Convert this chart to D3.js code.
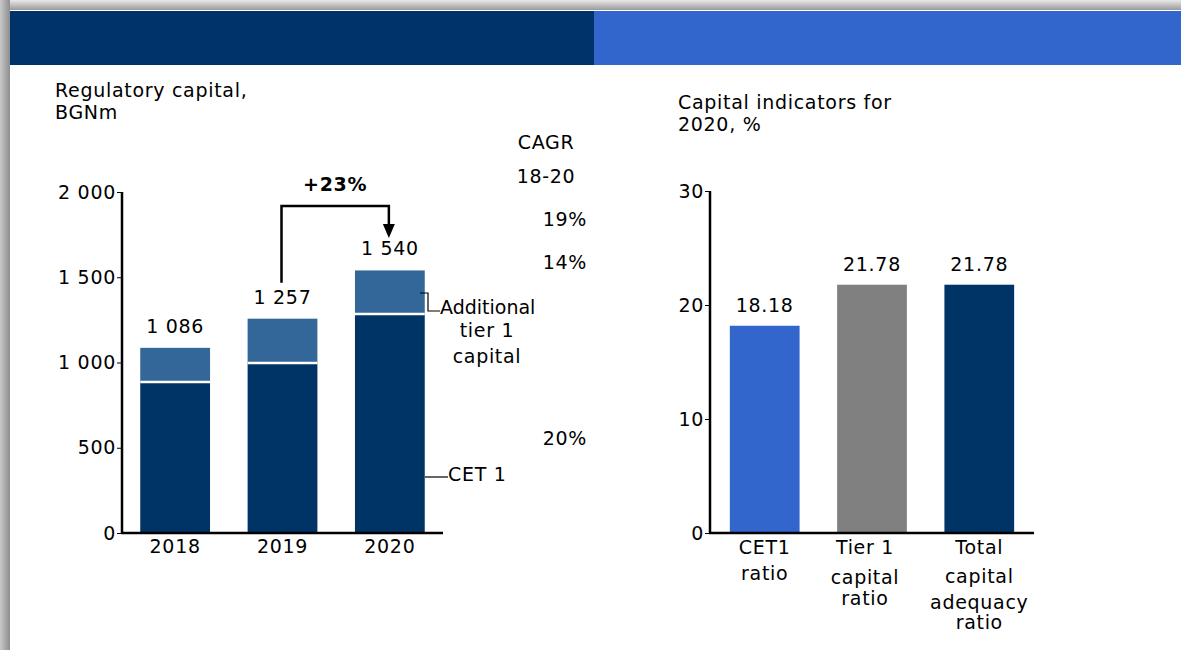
<!DOCTYPE html>
<html><head><meta charset="utf-8">
<script src="https://cdn.jsdelivr.net/npm/d3@7"></script>
<style>
html,body{margin:0;padding:0;background:#fff;}
svg{display:block;font-family:"DejaVu Sans",Verdana,sans-serif;}
svg text{letter-spacing:0.7px;}
</style></head><body>
<svg id="c" width="1181" height="650"></svg>
<script>
// ---- Data ----
const years = ["2018","2019","2020"];
const cet1 = [886, 997, 1284];
const at1 = [200, 260, 256];
const totals = ["1 086","1 257","1 540"];
const capTicks = [0, 500, 1000, 1500, 2000];
const capTickLabels = ["0","500","1 000","1 500","2 000"];
const cagrLabels = ["19%","14%","20%"];
const ratioCats = ["CET1 ratio","Tier 1 capital ratio","Total capital adequacy ratio"];
const ratioVals = [18.18, 21.78, 21.78];
const ratioTicks = [0, 10, 20, 30];

const svg = d3.select("#c");
const navy = "#003366", mid = "#336699", blue = "#3366CC", grey = "#808080";

// frame / shadow
const defs = svg.append("defs");
const gl = defs.append("linearGradient").attr("id","gl").attr("x1",0).attr("x2",1).attr("y1",0).attr("y2",0);
gl.append("stop").attr("offset",0).attr("stop-color","#c8c8c8");
gl.append("stop").attr("offset",1).attr("stop-color","#8e8e8e");
const gt = defs.append("linearGradient").attr("id","gt").attr("x1",0).attr("x2",0).attr("y1",0).attr("y2",1);
gt.append("stop").attr("offset",0).attr("stop-color","#e8e8e8");
gt.append("stop").attr("offset",1).attr("stop-color","#9a9a9a");
svg.append("rect").attr("x",0).attr("y",0).attr("width",1181).attr("height",10).attr("fill","url(#gt)");
svg.append("rect").attr("x",0).attr("y",0).attr("width",10).attr("height",650).attr("fill","url(#gl)");
svg.append("rect").attr("x",10).attr("y",11).attr("width",584).attr("height",54).attr("fill","#00336A");
svg.append("rect").attr("x",594).attr("y",11).attr("width",587).attr("height",54).attr("fill",blue);

const fs = 19;
// ---- Left chart ----
const yL = d3.scaleLinear().domain([0,2000]).range([533,192]);
const xL = d3.scaleBand().domain(years).range([122,443]).paddingInner(0.35).paddingOuter(0.17);

svg.append("text").attr("x",55).attr("y",97).attr("font-size",fs).text("Regulatory capital,");
svg.append("text").attr("x",55).attr("y",119).attr("font-size",fs).text("BGNm");

const gl1 = svg.append("g");
years.forEach((yr,i)=>{
  const x = xL(yr), w = xL.bandwidth();
  gl1.append("rect").attr("x",x).attr("width",w).attr("y",yL(cet1[i])).attr("height",yL(0)-yL(cet1[i])).attr("fill",navy);
  gl1.append("rect").attr("x",x).attr("width",w).attr("y",yL(cet1[i]+at1[i])).attr("height",yL(cet1[i])-yL(cet1[i]+at1[i])).attr("fill",mid);
  gl1.append("line").attr("x1",x).attr("x2",x+w).attr("y1",yL(cet1[i])).attr("y2",yL(cet1[i])).attr("stroke","#fff").attr("stroke-width",2.5);
  gl1.append("text").attr("x",x+w/2).attr("y",yL(cet1[i]+at1[i])-15).attr("text-anchor","middle").attr("font-size",fs).text(totals[i]);
});

const axL = svg.append("g").attr("transform","translate(122,0)").call(d3.axisLeft(yL).tickValues(capTicks).tickFormat((d,i)=>capTickLabels[i]).tickSize(5).tickPadding(1));
axL.select(".domain").attr("stroke","#000").attr("stroke-width",2.5).attr("d","M0,192V533");
axL.selectAll("text").attr("font-size",fs).attr("font-family","DejaVu Sans").attr("fill","#000");
axL.selectAll(".tick line").attr("stroke","#000");
const axLx = svg.append("g").attr("transform","translate(0,533)").call(d3.axisBottom(xL).tickSize(0).tickPadding(7));
axLx.select(".domain").attr("stroke","#000").attr("stroke-width",2.5).attr("d","M121,0H443");
axLx.selectAll("text").attr("font-size",fs).attr("font-family","DejaVu Sans").attr("fill","#000");

// growth arrow
const xa = xL("2019")+xL.bandwidth()/2 - 1, xb = xL("2020")+xL.bandwidth()/2 - 1;
svg.append("path").attr("d",`M${xa},${yL(1257)-36}V206H${xb}V226`).attr("fill","none").attr("stroke","#000").attr("stroke-width",2.5);
svg.append("path").attr("d",`M${xb-6},224L${xb+6},224L${xb},238Z`).attr("fill","#000");
svg.append("text").attr("x",(xa+xb)/2).attr("y",191).attr("text-anchor","middle").attr("font-size",fs).attr("font-weight","600").text("+23%");

// segment labels
svg.append("path").attr("d",`M420,293H428V311H440`).attr("fill","none").attr("stroke","#000").attr("stroke-width",1.2);
svg.append("text").attr("x",440).attr("y",314).attr("font-size",fs).style("letter-spacing","0px").text("Additional");
svg.append("text").attr("x",487).attr("y",337).attr("text-anchor","middle").attr("font-size",fs).text("tier 1");
svg.append("text").attr("x",487).attr("y",363).attr("text-anchor","middle").attr("font-size",fs).text("capital");
svg.append("line").attr("x1",425).attr("x2",448).attr("y1",477).attr("y2",477).attr("stroke","#000").attr("stroke-width",1.2);
svg.append("text").attr("x",448).attr("y",481).attr("font-size",fs).text("CET 1");

// CAGR
svg.append("text").attr("x",546).attr("y",149).attr("text-anchor","middle").attr("font-size",fs).text("CAGR");
svg.append("text").attr("x",546).attr("y",183).attr("text-anchor","middle").attr("font-size",fs).text("18-20");
const cagrY = [226, 269, 445];
cagrLabels.forEach((t,i)=>svg.append("text").attr("x",587).attr("y",cagrY[i]).attr("text-anchor","end").attr("font-size",fs).text(t));

// ---- Right chart ----
svg.append("text").attr("x",678).attr("y",109).attr("font-size",fs).text("Capital indicators for");
svg.append("text").attr("x",678).attr("y",131).attr("font-size",fs).text("2020, %");

const yR = d3.scaleLinear().domain([0,30]).range([533,191]);
const xR = d3.scaleBand().domain(ratioCats).range([710,1034]).paddingInner(0.35).paddingOuter(0.185);
const colors = [blue, grey, navy];
ratioCats.forEach((c,i)=>{
  svg.append("rect").attr("x",xR(c)).attr("width",xR.bandwidth()).attr("y",yR(ratioVals[i])).attr("height",yR(0)-yR(ratioVals[i])).attr("fill",colors[i]);
  svg.append("text").attr("x",xR(c)+xR.bandwidth()/2).attr("y",yR(ratioVals[i])-14).attr("text-anchor","middle").attr("font-size",fs).text(ratioVals[i].toFixed(2));
});
const axR = svg.append("g").attr("transform","translate(710,0)").call(d3.axisLeft(yR).tickValues(ratioTicks).tickSize(5).tickPadding(1));
axR.select(".domain").attr("stroke","#000").attr("stroke-width",2.5).attr("d","M0,191V533");
axR.selectAll("text").attr("font-size",fs).attr("font-family","DejaVu Sans").attr("fill","#000");
axR.selectAll(".tick line").attr("stroke","#000");
svg.append("line").attr("x1",709).attr("x2",1034).attr("y1",533).attr("y2",533).attr("stroke","#000").attr("stroke-width",2.5);

const lineSets = [
  [["CET1",554],["ratio",580]],
  [["Tier 1",554],["capital",584],["ratio",605]],
  [["Total",554],["capital",583],["adequacy",609],["ratio",629]]
];
const xOff = [0, -7, 0];
ratioCats.forEach((c,i)=>{
  lineSets[i].forEach(([t,y])=>svg.append("text").attr("x",xR(c)+xR.bandwidth()/2+xOff[i]).attr("y",y).attr("text-anchor","middle").attr("font-size",fs).text(t));
});
</script>
</body></html>
